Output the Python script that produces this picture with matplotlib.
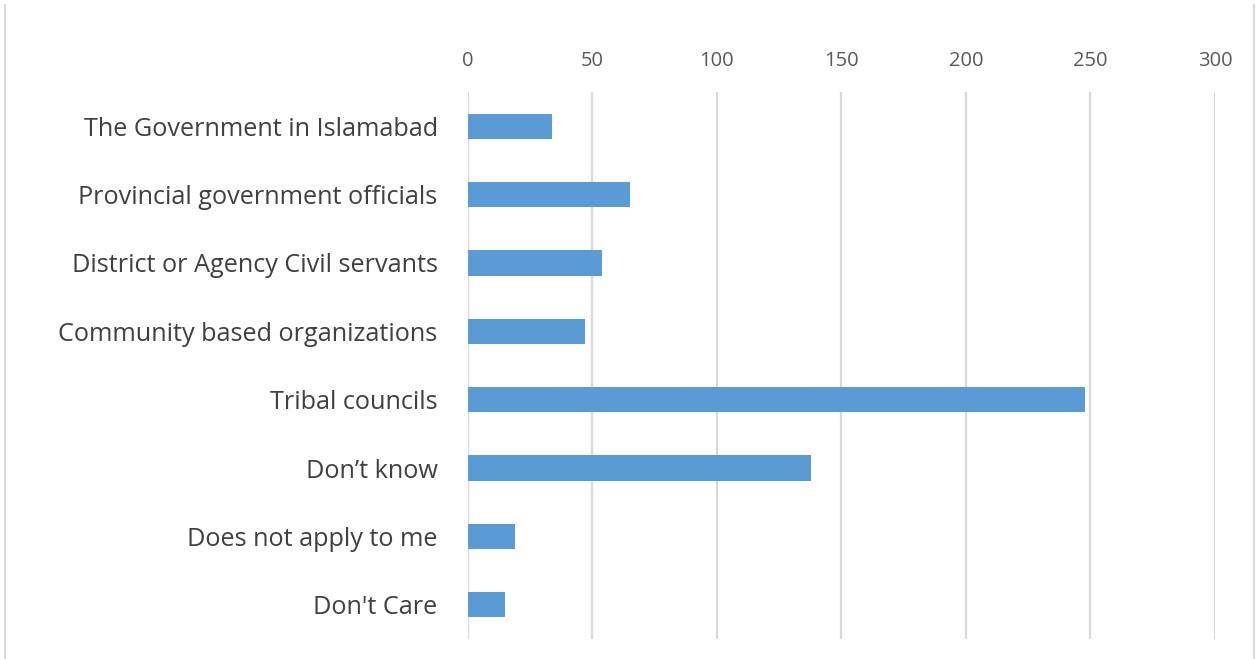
import matplotlib
matplotlib.use('Agg')
import matplotlib.pyplot as plt
from matplotlib.lines import Line2D

categories = ['The Government in Islamabad', 'Provincial government officials',
              'District or Agency Civil servants', 'Community based organizations',
              'Tribal councils', 'Don\u2019t know', 'Does not apply to me', "Don't Care"]
values = [34, 65, 54, 47, 248, 138, 19, 15]
xticks = [0, 50, 100, 150, 200, 250, 300]

plt.rcParams['font.family'] = ['Open Sans', 'DejaVu Sans']

fig = plt.figure(figsize=(12.57, 6.59), dpi=100)
ax = fig.add_axes([0.372, 0.0303, 0.5946, 0.8301])

ypos = list(range(len(categories)))
ax.barh(ypos, values, height=0.37, color='#5B9BD5', zorder=3)
ax.set_ylim(len(categories) - 0.5, -0.5)
ax.set_xlim(0, 300)
ax.set_xticks(xticks)
ax.set_yticks(ypos)
ax.set_yticklabels(categories, fontsize=18.2, color='#404040')
ax.xaxis.tick_top()
ax.tick_params(axis='x', length=0, pad=15, labelsize=14.5, labelcolor='#595959')
ax.tick_params(axis='y', length=0, pad=21.5)
ax.grid(axis='x', color='#D9D9D9', linewidth=1.6, zorder=0)
for s in ax.spines.values():
    s.set_visible(False)

# light frame lines at the figure edges
fig.add_artist(Line2D([5/1257, 5/1257], [0, 1 - 5/659], transform=fig.transFigure,
                      color='#D9D9D9', linewidth=1.5))
fig.add_artist(Line2D([1254/1257, 1254/1257], [0, 1 - 5/659], transform=fig.transFigure,
                      color='#D9D9D9', linewidth=1.5))

fig.savefig('out.png', dpi=100)
